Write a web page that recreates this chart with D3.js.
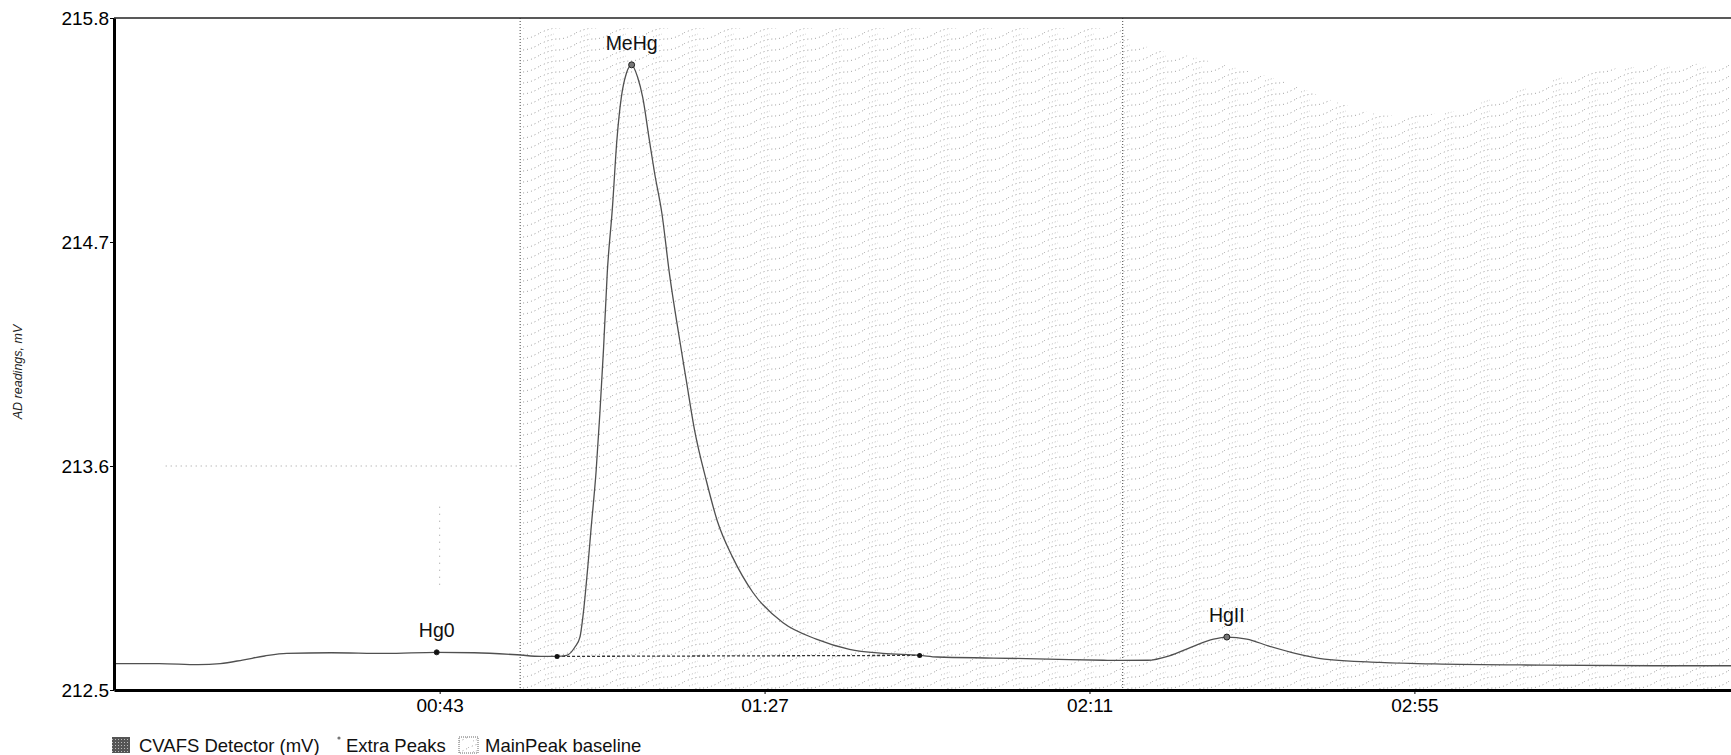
<!DOCTYPE html>
<html>
<head>
<meta charset="utf-8">
<script src="https://cdn.jsdelivr.net/npm/d3@7"></script>
<style>
  html, body { margin: 0; padding: 0; background: #fff; }
  svg { display: block; font-family: "Liberation Sans", Arial, sans-serif; }
</style>
</head>
<body>
<svg id="chart" width="1731" height="755"></svg>
<script>
// Detector trace: elapsed time (s) and reading (mV)
const traceTime = [-1.1, 5, 10.3, 13.3, 16.3, 19.3, 22.3, 28.3, 35.7, 42.6, 47.7, 53.5, 56.7, 58.9, 60.2, 61.3, 62.0, 62.4, 63.1, 63.5, 64.2, 64.7, 65.2, 65.7, 66.4, 67.0, 67.6, 68.3, 69.0, 69.8, 70.5, 71.4, 72.1, 73.1, 74.1, 75.5, 76.4, 77.5, 79.1, 80.6, 82.7, 85.4, 89.5, 94.0, 98.5, 103.0, 108.0, 110.4, 118, 125.4, 132.9, 135.5, 138.9, 141.8, 144.8, 147.8, 149.6, 152.3, 155.3, 159, 162.8, 170.3, 177.7, 192.7, 207.6, 219.5];
const traceMv = [212.63, 212.63, 212.625, 212.63, 212.647, 212.667, 212.68, 212.683, 212.68, 212.685, 212.683, 212.673, 212.665, 212.665, 212.67, 212.71, 212.76, 212.86, 213.12, 213.29, 213.58, 213.86, 214.18, 214.55, 214.87, 215.2, 215.41, 215.53, 215.57, 215.51, 215.41, 215.2, 215.04, 214.84, 214.55, 214.22, 214.02, 213.78, 213.53, 213.33, 213.15, 212.98, 212.83, 212.75, 212.70, 212.68, 212.67, 212.662, 212.657, 212.652, 212.646, 212.645, 212.646, 212.668, 212.711, 212.75, 212.76, 212.75, 212.716, 212.679, 212.652, 212.636, 212.628, 212.622, 212.619, 212.619];

// Named peaks
const peakNames = ["Hg0", "MeHg", "HgII"];
const peakTime = [42.6, 69.0, 149.6];
const peakMv = [212.685, 215.57, 212.76];

// Main peak baseline end points
const baselineTime = [58.9, 108.0];
const baselineMv = [212.665, 212.67];

// Integration window edges (s)
const windowEdges = [53.9, 135.5];

// Cursor cross-hair (time s, mV) with its drawn extents
const cursorTime = 43;
const cursorMv = 213.6;
const cursorSpanTime = [5.9, 53.9];
const cursorSpanMv = [212.99, 213.4];

// Shaded baseline region: upper boundary
const shadeTime = [53.9, 135.5, 136, 146, 158, 165, 172, 180, 188, 196, 205, 219.5];
const shadeTop = [215.75, 215.75, 215.7, 215.6, 215.48, 215.38, 215.32, 215.34, 215.44, 215.52, 215.56, 215.58];

// Axes
const yTicks = [212.5, 213.6, 214.7, 215.8];
const xTicks = [43, 87, 131, 175];
const xTickLabels = ["00:43", "01:27", "02:11", "02:55"];
const yTitle = "AD readings, mV";
const legendLabels = ["CVAFS Detector (mV)", "Extra Peaks", "MainPeak baseline"];

const svg = d3.select("#chart");
const W = 1731, H = 755;
const plotLeft = 114, plotTop = 18, plotBottom = 690;

const x = d3.scaleLinear().domain([-1.1, 219.5]).range([plotLeft, 1743]);
const y = d3.scaleLinear().domain([212.5, 215.8]).range([plotBottom, plotTop]);

const defs = svg.append("defs");
defs.append("clipPath").attr("id", "plotClip")
  .append("rect").attr("x", plotLeft).attr("y", plotTop)
  .attr("width", W - plotLeft).attr("height", plotBottom - plotTop);

// stipple texture: slanted rows of fine dots
const pat = defs.append("pattern").attr("id", "stipple")
  .attr("patternUnits", "userSpaceOnUse").attr("width", 36).attr("height", 11);
pat.append("path").attr("d", "M0,11 Q10,6 18,6 T36,0")
  .attr("fill", "none").attr("stroke", "#8f8f8f").attr("stroke-width", 1)
  .attr("stroke-dasharray", "1,3");
pat.append("path").attr("d", "M5,4 L14,1")
  .attr("fill", "none").attr("stroke", "#b5b5b5").attr("stroke-width", 1)
  .attr("stroke-dasharray", "1,2");

const dark = defs.append("pattern").attr("id", "darkStipple")
  .attr("patternUnits", "userSpaceOnUse").attr("width", 3).attr("height", 3);
dark.append("rect").attr("width", 3).attr("height", 3).attr("fill", "#555");
dark.append("rect").attr("x", 1).attr("y", 1).attr("width", 1).attr("height", 1).attr("fill", "#bbb");

const plot = svg.append("g").attr("clip-path", "url(#plotClip)");

// shaded region
const shade = shadeTime.map((t, i) => ({ t, v: shadeTop[i] }));
plot.append("path")
  .datum(shade)
  .attr("fill", "url(#stipple)")
  .attr("d", d3.area().x(d => x(d.t)).y0(y(212.5)).y1(d => y(d.v)).curve(d3.curveMonotoneX));

// faint cursor cross-hair
plot.append("line")
  .attr("x1", x(cursorSpanTime[0])).attr("x2", x(cursorSpanTime[1]))
  .attr("y1", y(cursorMv)).attr("y2", y(cursorMv))
  .attr("stroke", "#9a9a9a").attr("stroke-width", 1).attr("stroke-dasharray", "1,4");
plot.append("line")
  .attr("x1", x(cursorTime)).attr("x2", x(cursorTime))
  .attr("y1", y(cursorSpanMv[1])).attr("y2", y(cursorSpanMv[0]))
  .attr("stroke", "#9a9a9a").attr("stroke-width", 1).attr("stroke-dasharray", "1,6");

// window edges
plot.selectAll("line.edge").data(windowEdges).join("line")
  .attr("class", "edge")
  .attr("x1", d => x(d)).attr("x2", d => x(d))
  .attr("y1", plotTop).attr("y2", plotBottom)
  .attr("stroke", "#444").attr("stroke-width", 1).attr("stroke-dasharray", "1,2");

// baseline
plot.append("line")
  .attr("x1", x(baselineTime[0])).attr("y1", y(baselineMv[0]))
  .attr("x2", x(baselineTime[1])).attr("y2", y(baselineMv[1]))
  .attr("stroke", "#333").attr("stroke-width", 1.3).attr("stroke-dasharray", "3,2");

// trace
const trace = traceTime.map((t, i) => ({ t, v: traceMv[i] }));
plot.append("path")
  .datum(trace)
  .attr("fill", "none").attr("stroke", "#505050").attr("stroke-width", 1.3)
  .attr("d", d3.line().x(d => x(d.t)).y(d => y(d.v)).curve(d3.curveMonotoneX));

// baseline markers
plot.selectAll("circle.bl").data(baselineTime).join("circle")
  .attr("class", "bl")
  .attr("cx", d => x(d)).attr("cy", (d, i) => y(baselineMv[i]))
  .attr("r", 2.5).attr("fill", "#111");

// peak markers and labels
const peaks = peakNames.map((n, i) => ({ n, t: peakTime[i], v: peakMv[i] }));
plot.selectAll("circle.pk").data(peaks).join("circle")
  .attr("class", "pk")
  .attr("cx", d => x(d.t)).attr("cy", d => y(d.v))
  .attr("r", d => d.n === "Hg0" ? 2.5 : 3)
  .attr("fill", d => d.n === "Hg0" ? "#111" : "#777")
  .attr("stroke", "#222").attr("stroke-width", 1);
svg.selectAll("text.pk").data(peaks).join("text")
  .attr("class", "pk")
  .attr("x", d => x(d.t)).attr("y", d => y(d.v) - 15)
  .attr("text-anchor", "middle")
  .attr("font-size", 19.5).attr("fill", "#111")
  .text(d => d.n);

// top border
svg.append("line")
  .attr("x1", plotLeft).attr("x2", W).attr("y1", plotTop).attr("y2", plotTop)
  .attr("stroke", "#222").attr("stroke-width", 1.6);

// y axis
const yAxis = svg.append("g").attr("transform", `translate(${plotLeft},0)`)
  .call(d3.axisLeft(y).tickValues(yTicks).tickSize(4).tickSizeOuter(0).tickFormat(d3.format(".1f")));
yAxis.select(".domain").attr("stroke", "#000").attr("stroke-width", 3);
yAxis.selectAll(".tick line").attr("stroke", "#000");
yAxis.selectAll(".tick text").attr("font-size", 19).attr("fill", "#000")
  .attr("font-family", "Liberation Sans, Arial, sans-serif").attr("x", -5);

// x axis
const xAxis = svg.append("g").attr("transform", `translate(0,${plotBottom})`)
  .call(d3.axisBottom(x).tickValues(xTicks).tickSize(4).tickSizeOuter(0)
    .tickFormat((d, i) => xTickLabels[i]));
xAxis.select(".domain").attr("stroke", "#000").attr("stroke-width", 3);
xAxis.selectAll(".tick line").attr("stroke", "#000");
xAxis.selectAll(".tick text").attr("font-size", 19).attr("fill", "#000")
  .attr("font-family", "Liberation Sans, Arial, sans-serif").attr("y", 9);

// y title
svg.append("text")
  .attr("transform", "translate(22,372) rotate(-90)")
  .attr("text-anchor", "middle")
  .attr("font-size", 12.5).attr("font-style", "italic").attr("fill", "#222")
  .text(yTitle);

// legend
const lg = svg.append("g").attr("font-size", 18.5).attr("fill", "#111");
lg.append("rect").attr("x", 112).attr("y", 737).attr("width", 18).attr("height", 16)
  .attr("fill", "url(#darkStipple)");
lg.append("text").attr("x", 139).attr("y", 752).text(legendLabels[0]);
lg.append("circle").attr("cx", 339).attr("cy", 738).attr("r", 1.6).attr("fill", "#777");
lg.append("text").attr("x", 346).attr("y", 752).text(legendLabels[1]);
lg.append("rect").attr("x", 459).attr("y", 737).attr("width", 19).attr("height", 16)
  .attr("fill", "url(#stipple)").attr("stroke", "#666").attr("stroke-dasharray", "1,1");
lg.append("text").attr("x", 485).attr("y", 752).text(legendLabels[2]);
</script>
</body>
</html>
